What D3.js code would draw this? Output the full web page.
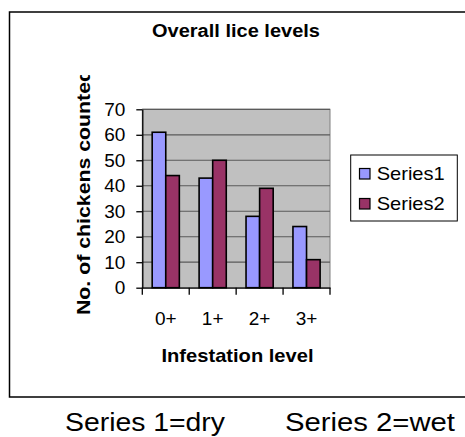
<!DOCTYPE html>
<html><head><meta charset="utf-8">
<script src="https://cdn.jsdelivr.net/npm/d3@7"></script>
<style>body{margin:0;background:#fff}svg{display:block}text{font-family:"Liberation Sans",Arial,sans-serif}</style>
</head><body>
<script>
const categories = ["0+","1+","2+","3+"];
const seriesNames = ["Series1","Series2"];
const series1 = [61,43,28,24];
const series2 = [44,50,39,11];
const yTicks = [0,10,20,30,40,50,60,70];
const colors = ["#9999FF","#993366"];

const W=465,H=437;
const svg=d3.select("body").append("svg").attr("width",W).attr("height",H);

// chart frame
svg.append("path").attr("d","M468,12H9.5V397H468").attr("fill","none").attr("stroke","#000").attr("stroke-width",1.5);

svg.append("text").attr("x",236).attr("y",37).attr("text-anchor","middle")
  .attr("font-weight","bold").attr("font-size",18).attr("textLength",168).attr("lengthAdjust","spacingAndGlyphs")
  .text("Overall lice levels");

const L=142.3,R=330,T=109.3,B=287.7;
const x0=d3.scaleBand().domain(categories).range([L,R]).padding(0);
const x1=d3.scaleBand().domain(seriesNames).range([0,x0.bandwidth()]).paddingInner(0).paddingOuter(0.728);
const y=d3.scaleLinear().domain([0,70]).range([B,T]);

// plot area
svg.append("rect").attr("x",L).attr("y",T).attr("width",R-L).attr("height",B-T)
  .attr("fill","#C0C0C0").attr("stroke","#808080").attr("stroke-width",1);

// gridlines
svg.append("g").selectAll("line").data(yTicks.filter(d=>d>0)).join("line")
  .attr("x1",L).attr("x2",R).attr("y1",d=>y(d)).attr("y2",d=>y(d))
  .attr("stroke","#5a5a5a").attr("stroke-width",1.2);

// bars
const data=categories.map((c,i)=>({c,vals:[series1[i],series2[i]]}));
const g=svg.append("g");
data.forEach(d=>{
  d.vals.forEach((v,j)=>{
    g.append("rect").attr("x",x0(d.c)+x1(seriesNames[j])).attr("y",y(v))
      .attr("width",x1.bandwidth()).attr("height",B-y(v))
      .attr("fill",colors[j]).attr("stroke","#000").attr("stroke-width",1.6);
  });
});

// y axis
const ya=svg.append("g").attr("transform",`translate(${L},0)`)
  .call(d3.axisLeft(y).tickValues(yTicks).tickSize(6).tickSizeOuter(0).tickPadding(11));
ya.selectAll("path,line").attr("stroke","#000").attr("stroke-width",1.3);
ya.selectAll("text").attr("font-size",19).attr("font-family","Liberation Sans, Arial, sans-serif").attr("fill","#000");

// x axis
const xa=svg.append("g").attr("transform",`translate(0,${B})`)
  .call(d3.axisBottom(x0).tickSize(0).tickPadding(24));
xa.select(".domain").attr("stroke","#000").attr("stroke-width",1.3);
xa.selectAll("text").attr("font-size",19).attr("font-family","Liberation Sans, Arial, sans-serif").attr("fill","#000");
svg.append("g").selectAll("line").data(categories.map(c=>x0(c)).concat([R])).join("line")
  .attr("x1",d=>d).attr("x2",d=>d).attr("y1",B).attr("y2",B+7).attr("stroke","#000").attr("stroke-width",1.3);

svg.append("text").attr("x",237.5).attr("y",361.5).attr("text-anchor","middle")
  .attr("font-weight","bold").attr("font-size",18.5).attr("textLength",152).attr("lengthAdjust","spacingAndGlyphs")
  .text("Infestation level");

// y axis title, clipped at top
svg.append("clipPath").attr("id","yclip").append("rect").attr("x",0).attr("y",75).attr("width",140).attr("height",300);
svg.append("g").attr("clip-path","url(#yclip)").append("text")
  .attr("transform","translate(90,315) rotate(-90)")
  .attr("font-weight","bold").attr("font-size",18).attr("textLength",246).attr("lengthAdjust","spacingAndGlyphs")
  .text("No. of chickens counted");

// legend
const lg=svg.append("g");
lg.append("rect").attr("x",350.7).attr("y",155).attr("width",106.6).attr("height",66).attr("fill","#fff").attr("stroke","#000").attr("stroke-width",1);
seriesNames.forEach((s,i)=>{
  lg.append("rect").attr("x",359.5).attr("y",168.5+i*30).attr("width",10.5).attr("height",10.5)
    .attr("fill",colors[i]).attr("stroke","#000").attr("stroke-width",1.2);
  lg.append("text").attr("x",376.7).attr("y",180+i*30).attr("font-size",18.5)
    .attr("textLength",68).attr("lengthAdjust","spacingAndGlyphs").text(s);
});

// footnote
svg.append("text").attr("x",65).attr("y",431).attr("font-size",26).attr("textLength",160).attr("lengthAdjust","spacingAndGlyphs").text("Series 1=dry");
svg.append("text").attr("x",285).attr("y",431).attr("font-size",26).attr("textLength",170).attr("lengthAdjust","spacingAndGlyphs").text("Series 2=wet");
</script>
</body></html>
